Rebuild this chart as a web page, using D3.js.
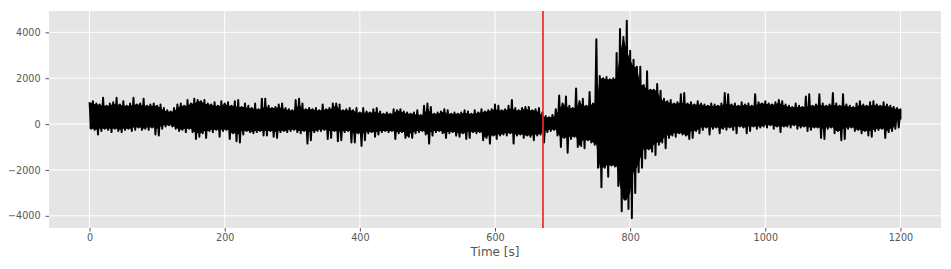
<!DOCTYPE html>
<html>
<head>
<meta charset="utf-8">
<script src="https://cdn.jsdelivr.net/npm/d3@7"></script>
<style>
  body { margin: 0; background: #fff; }
  svg { display: block; font-family: "DejaVu Sans", sans-serif; }
</style>
</head>
<body>
<div id="app"></div>
<script>
// peak-to-peak envelope of the trace, one pair per 5 s window
const windowStep = 5;
const peakHigh = [
  950, 1000, 900, 850, 1150, 800, 900, 950, 1150, 850,
  1000, 800, 900, 1150, 850, 900, 1100, 800, 850, 900,
  800, 850, 700, 600, 550, 700, 850, 900, 800, 1050,
  900, 1100, 1050, 1000, 1050, 900, 850, 950, 800, 1000,
  900, 950, 800, 1000, 1050, 750, 900, 800, 700, 900,
  650, 1100, 1100, 800, 700, 750, 850, 900, 700, 650,
  600, 1050, 1100, 900, 650, 700, 650, 700, 600, 850,
  650, 700, 900, 900, 850, 600, 650, 700, 600, 700,
  500, 700, 550, 500, 650, 700, 550, 450, 500, 450,
  650, 600, 650, 550, 500, 450, 500, 600, 400, 800,
  900, 750, 450, 500, 550, 650, 600, 450, 500, 450,
  500, 600, 550, 450, 600, 500, 650, 550, 600, 650,
  850, 800, 600, 650, 800, 1050, 700, 600, 700, 750,
  750, 600, 650, 700, 500, 350, 300, 400, 650, 1250,
  900, 1200, 800, 700, 1550, 1000, 1100, 800, 1400, 900,
  3700, 2100, 2000, 2050, 1950, 2000, 3100, 4150, 3800, 4500,
  3200, 2800, 2500, 2500, 1700, 2300, 1500, 1500, 1750, 1450,
  1100, 1000, 1050, 900, 950, 1300, 1350, 900, 950, 850,
  1000, 900, 850, 800, 900, 850, 800, 900, 1350, 1300,
  850, 900, 800, 950, 850, 900, 800, 1300, 950, 900,
  1000, 900, 850, 950, 1050, 1000, 850, 800, 750, 900,
  800, 750, 1200, 1300, 800, 850, 1300, 900, 800, 850,
  1350, 900, 800, 1300, 850, 800, 750, 900, 1000, 850,
  800, 950, 1000, 850, 800, 950, 850, 800, 750, 700,
  650
];
const peakLow = [
  -200, -250, -450, -300, -200, -250, -350, -200, -300, -350,
  -250, -200, -300, -250, -150, -250, -200, -250, -150, -450,
  -500, -200, -100, -50, -100, -200, -300, -250, -350, -200,
  -350, -650, -550, -400, -600, -300, -350, -250, -550, -300,
  -250, -650, -400, -750, -800, -450, -300, -350, -400, -350,
  -300, -500, -500, -300, -550, -600, -350, -300, -350, -300,
  -250, -350, -400, -300, -850, -700, -350, -300, -300, -250,
  -650, -600, -300, -750, -700, -350, -300, -800, -800, -400,
  -950, -700, -400, -350, -550, -450, -350, -300, -350, -300,
  -650, -400, -350, -600, -550, -600, -400, -350, -300, -450,
  -850, -500, -350, -300, -400, -600, -400, -350, -500, -550,
  -400, -650, -600, -350, -400, -350, -700, -600, -850, -500,
  -650, -500, -450, -500, -400, -850, -500, -450, -600, -500,
  -550, -700, -500, -450, -800, -350, -300, -250, -500, -1000,
  -600, -1250, -650, -550, -1000, -950, -1050, -700, -800, -900,
  -1900, -2750, -1900, -2300, -1800, -1850, -2700, -3800, -3300, -3700,
  -4100, -3000, -2100, -1900, -1500, -1100, -1200, -1350, -900, -800,
  -1050, -600, -500, -550, -400, -450, -500, -650, -600, -300,
  -400, -250, -150, -450, -200, -150, -400, -200, -250, -150,
  -250, -400, -100, -150, -400, -300, -100, -200, -150, -100,
  -150, -50, -200, -100, -350, -100, -100, -150, -50, -200,
  -150, -100, -300, -250, -150, -150, -600, -650, -200, -150,
  -400, -300, -700, -650, -200, -150, -300, -250, -400, -300,
  -500, -550, -300, -250, -200, -600, -350, -300, -200, -150,
  200
];
const windowTimes = peakHigh.map((_, i) => i * windowStep);
const pickTime = 671;
const xTicks = [0, 200, 400, 600, 800, 1000, 1200];
const yTicks = [-4000, -2000, 0, 2000, 4000];

const width = 951;
const height = 269;
const margin = { top: 11, right: 10, bottom: 41, left: 49 };

// trace: high peak then low peak inside every window
const trace = [];
windowTimes.forEach((t, i) => {
  trace.push([t, peakHigh[i]]);
  if (i < windowTimes.length - 1) trace.push([t + windowStep / 2, peakLow[i]]);
  else trace.push([t, peakLow[i]]);
});

// band that neighbouring strokes always cover, filled solid so the core has no gaps
const core = windowTimes.map((t, i) => {
  const nb = [i - 1, i, i + 1].filter(j => j >= 0 && j < windowTimes.length);
  return {
    t: t,
    hi: d3.min(nb, j => peakHigh[j]),
    lo: d3.max(nb, j => peakLow[j])
  };
});

// matplotlib-like 5% margins
const pad = (lo, hi) => [lo - (hi - lo) * 0.05, hi + (hi - lo) * 0.05];
const tExt = d3.extent(windowTimes);
const vExt = [d3.min(peakLow), d3.max(peakHigh)];

const x = d3.scaleLinear().domain(pad(tExt[0], tExt[1])).range([margin.left, width - margin.right]);
const y = d3.scaleLinear().domain(pad(vExt[0], vExt[1])).range([height - margin.bottom, margin.top]);

const svg = d3.select("#app").append("svg").attr("width", width).attr("height", height);

svg.append("rect")
  .attr("x", margin.left).attr("y", margin.top)
  .attr("width", width - margin.left - margin.right)
  .attr("height", height - margin.top - margin.bottom)
  .attr("fill", "#e5e5e5");

const grid = svg.append("g").attr("stroke", "#fff").attr("stroke-width", 1);
grid.selectAll("line.gx").data(xTicks).enter().append("line")
  .attr("x1", d => x(d)).attr("x2", d => x(d))
  .attr("y1", margin.top).attr("y2", height - margin.bottom);
grid.selectAll("line.gy").data(yTicks).enter().append("line")
  .attr("y1", d => y(d)).attr("y2", d => y(d))
  .attr("x1", margin.left).attr("x2", width - margin.right);

const xAxis = svg.append("g")
  .attr("transform", `translate(0, ${height - margin.bottom})`)
  .call(d3.axisBottom(x).tickValues(xTicks).tickSize(3.5).tickPadding(3).tickFormat(d3.format("d")));
const yAxis = svg.append("g")
  .attr("transform", `translate(${margin.left}, 0)`)
  .call(d3.axisLeft(y).tickValues(yTicks).tickSize(3.5).tickPadding(5).tickFormat(d => d < 0 ? "\u2212" + Math.abs(d) : d));

[xAxis, yAxis].forEach(a => {
  a.attr("font-family", "DejaVu Sans").attr("font-size", 9.6);
  a.select(".domain").remove();
  a.selectAll(".tick line").attr("stroke", "#555555");
  a.selectAll(".tick text").attr("fill", "#555555");
});

svg.append("path")
  .datum(core)
  .attr("fill", "#000")
  .attr("d", d3.area().x(d => x(d.t)).y0(d => y(d.lo)).y1(d => y(d.hi)));

svg.append("path")
  .datum(trace)
  .attr("fill", "none")
  .attr("stroke", "#000")
  .attr("stroke-width", 2)
  .attr("stroke-linejoin", "round")
  .attr("d", d3.line().x(d => x(d[0])).y(d => y(d[1])));

svg.append("line")
  .attr("x1", x(pickTime)).attr("x2", x(pickTime))
  .attr("y1", margin.top).attr("y2", height - margin.bottom)
  .attr("stroke", "#f0282a")
  .attr("stroke-width", 1.7);

svg.append("text")
  .attr("x", (margin.left + width - margin.right) / 2)
  .attr("y", 256)
  .attr("text-anchor", "middle")
  .attr("fill", "#555555")
  .style("font-size", "12px")
  .text("Time [s]");
</script>
</body>
</html>
